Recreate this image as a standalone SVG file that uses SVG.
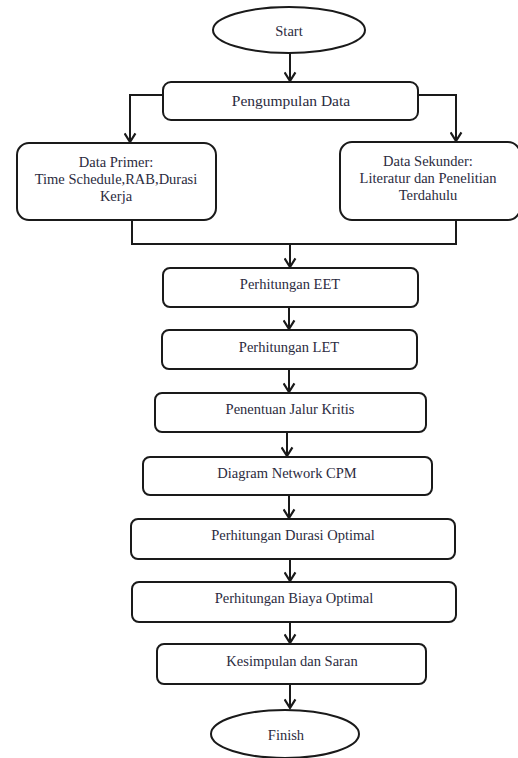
<svg xmlns="http://www.w3.org/2000/svg" width="518" height="758" viewBox="0 0 518 758">
<style>
.n{fill:#fff;stroke:#1a1a1a;stroke-width:2}
.t{font-family:"Liberation Serif","Times New Roman",serif;font-size:14.5px;fill:#2b2b40;text-anchor:middle;dominant-baseline:central}
.c{fill:none;stroke:#1a1a1a;stroke-width:2}
</style>
<defs>
<marker id="ah" viewBox="0 0 12 12" refX="10" refY="6" markerWidth="13" markerHeight="13" markerUnits="userSpaceOnUse" orient="auto">
<path d="M2,1 L10,6 L2,11" fill="none" stroke="#1a1a1a" stroke-width="2"/>
</marker>
</defs>
<rect width="518" height="758" fill="#fff"/>
<g id="connectors">
<line class="c" x1="290" y1="53" x2="290" y2="81" marker-end="url(#ah)"/>
<polyline class="c" points="163,95 130,95 130,142" marker-end="url(#ah)"/>
<polyline class="c" points="418,95 456,95 456,141" marker-end="url(#ah)"/>
<polyline class="c" points="132,220 132,244 456,244 456,220"/>
<line class="c" x1="290" y1="244" x2="290" y2="267" marker-end="url(#ah)"/>
<line class="c" x1="289" y1="307" x2="289" y2="329" marker-end="url(#ah)"/>
<line class="c" x1="289" y1="369" x2="289" y2="392" marker-end="url(#ah)"/>
<line class="c" x1="287" y1="432" x2="287" y2="456" marker-end="url(#ah)"/>
<line class="c" x1="289" y1="495" x2="289" y2="518" marker-end="url(#ah)"/>
<line class="c" x1="290" y1="559" x2="290" y2="581" marker-end="url(#ah)"/>
<line class="c" x1="290" y1="622" x2="290" y2="643" marker-end="url(#ah)"/>
<line class="c" x1="290" y1="684" x2="290" y2="708" marker-end="url(#ah)"/>
</g>
<g id="start">
<ellipse class="n" cx="289" cy="30" rx="76" ry="23"/>
<text class="t" x="289" y="31">Start</text>
</g>
<g id="pengumpulan">
<rect class="n" x="163" y="82" width="255" height="38" rx="8"/>
<text class="t" x="291" y="100" style="font-size:15.5px">Pengumpulan Data</text>
</g>
<g id="primer">
<rect class="n" x="17" y="143" width="199" height="77" rx="12"/>
<text class="t" x="116" y="162">Data Primer:</text>
<text class="t" x="116" y="179">Time Schedule,RAB,Durasi</text>
<text class="t" x="116" y="196">Kerja</text>
</g>
<g id="sekunder">
<rect class="n" x="340" y="142" width="180" height="78" rx="12"/>
<text class="t" x="428" y="161">Data Sekunder:</text>
<text class="t" x="428" y="178">Literatur dan Penelitian</text>
<text class="t" x="428" y="195">Terdahulu</text>
</g>
<g id="eet">
<rect class="n" x="163" y="268" width="255" height="39" rx="7"/>
<text class="t" x="290" y="284">Perhitungan EET</text>
</g>
<g id="let">
<rect class="n" x="162" y="330" width="255" height="39" rx="7"/>
<text class="t" x="289" y="347">Perhitungan LET</text>
</g>
<g id="jalur">
<rect class="n" x="155" y="393" width="271" height="39" rx="7"/>
<text class="t" x="290" y="409">Penentuan Jalur Kritis</text>
</g>
<g id="cpm">
<rect class="n" x="143" y="457" width="289" height="38" rx="7"/>
<text class="t" x="287" y="473">Diagram Network CPM</text>
</g>
<g id="durasi">
<rect class="n" x="131" y="519" width="324" height="40" rx="7"/>
<text class="t" x="293" y="535">Perhitungan Durasi Optimal</text>
</g>
<g id="biaya">
<rect class="n" x="132" y="582" width="324" height="40" rx="7"/>
<text class="t" x="294" y="598">Perhitungan Biaya Optimal</text>
</g>
<g id="kesimpulan">
<rect class="n" x="157" y="644" width="269" height="40" rx="7"/>
<text class="t" x="292" y="661">Kesimpulan dan Saran</text>
</g>
<g id="finish">
<ellipse class="n" cx="285" cy="734" rx="74" ry="24"/>
<text class="t" x="286" y="735">Finish</text>
</g>
</svg>
